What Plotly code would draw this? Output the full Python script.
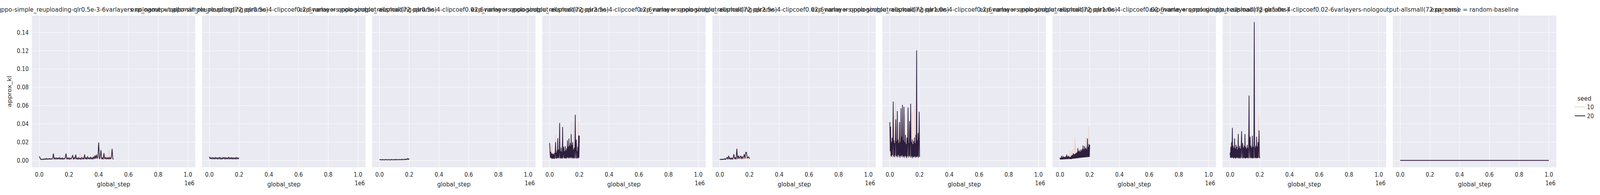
import plotly.graph_objects as go
from plotly.subplots import make_subplots

# logged global_step grids
steps_500k = list(range(0, 500001, 5000))
steps_200k = list(range(0, 200001, 5000))
steps_200k_fine = list(range(0, 200001, 2500))
steps_1m = [0, 250000, 500000, 750000, 1000000]

seeds = [10, 20]
seed_colors = {10: '#edd1cb', 20: '#2d1e3e'}

exp_names = [
    'qppo-simple_reuploading-qlr0.5e-3-6varlayers-nologoutput-allsmall_reuploading(72 params)',
    'qppo-simple_reuploading-qlr0.5e-4-clipcoef0.2-6varlayers-nologoutput-allsmall(72 params)',
    'qppo-simple_reuploading-qlr0.5e-4-clipcoef0.02-6varlayers-nologoutput-allsmall(72 params)',
    'qppo-simple_reuploading-qlr2.5e-4-clipcoef0.2-6varlayers-nologoutput-allsmall(72 params)',
    'qppo-simple_reuploading-qlr2.5e-4-clipcoef0.02-6varlayers-nologoutput-allsmall(72 params)',
    'qppo-simple_reuploading-qlr1.0e-4-clipcoef0.2-6varlayers-nologoutput-allsmall(72 params)',
    'qppo-simple_reuploading-qlr1.0e-4-clipcoef0.02-6varlayers-nologoutput-allsmall(72 params)',
    'qppo-simple_reuploading-qlr5.0e-4-clipcoef0.02-6varlayers-nologoutput-allsmall(72 params)',
    'random-baseline',
]

x_ticks = [0, 200000, 400000, 600000, 800000, 1000000]
x_ticktext = ['0.0', '0.2', '0.4', '0.6', '0.8', '1.0']
y_ticks = [0.0, 0.02, 0.04, 0.06, 0.08, 0.10, 0.12, 0.14]

# approx_kl per run
kl_p1_s10 = [0.0035, 0.0012, 0.0009, 0.0030, 0.0011, 0.0008, 0.0015, 0.0010, 0.0018, 0.0011,
             0.0024, 0.0010, 0.0017, 0.0030, 0.0012, 0.0026, 0.0013, 0.0021, 0.0010, 0.0031,
             0.0014, 0.0024, 0.0011, 0.0027, 0.0013, 0.0035, 0.0012, 0.0029, 0.0055, 0.0013,
             0.0026, 0.0011, 0.0033, 0.0048, 0.0012, 0.0030, 0.0015, 0.0027, 0.0011, 0.0041,
             0.0014, 0.0030, 0.0012, 0.0038, 0.0016, 0.0028, 0.0011, 0.0036, 0.0013, 0.0030,
             0.0015, 0.0039, 0.0012, 0.0027, 0.0014, 0.0081, 0.0013, 0.0034, 0.0016, 0.0029,
             0.0012, 0.0037, 0.0015, 0.0026, 0.0013, 0.0043, 0.0016, 0.0031, 0.0012, 0.0039,
             0.0014, 0.0046, 0.0016, 0.0033, 0.0013, 0.0040, 0.0018, 0.0035, 0.0070, 0.0017,
             0.0045, 0.0015, 0.0038, 0.0020, 0.0033, 0.0016, 0.0052, 0.0018, 0.0041, 0.0070,
             0.0017, 0.0055, 0.0019, 0.0043, 0.0122, 0.0016, 0.0048, 0.0021, 0.0136, 0.0024,
             0.0018]
kl_p1_s20 = [0.0045, 0.0030, 0.0012, 0.0010, 0.0014, 0.0009, 0.0016, 0.0010, 0.0020, 0.0012,
             0.0022, 0.0011, 0.0018, 0.0013, 0.0021, 0.0012, 0.0019, 0.0014, 0.0023, 0.0075,
             0.0013, 0.0028, 0.0015, 0.0030, 0.0012, 0.0026, 0.0016, 0.0033, 0.0011, 0.0024,
             0.0014, 0.0029, 0.0012, 0.0022, 0.0016, 0.0031, 0.0075, 0.0013, 0.0027, 0.0015,
             0.0030, 0.0012, 0.0024, 0.0017, 0.0034, 0.0058, 0.0011, 0.0029, 0.0016, 0.0064,
             0.0013, 0.0026, 0.0010, 0.0032, 0.0015, 0.0023, 0.0012, 0.0035, 0.0014, 0.0027,
             0.0012, 0.0065, 0.0015, 0.0031, 0.0011, 0.0044, 0.0016, 0.0028, 0.0013, 0.0038,
             0.0014, 0.0030, 0.0012, 0.0042, 0.0016, 0.0055, 0.0018, 0.0062, 0.0021, 0.0048,
             0.0197, 0.0015, 0.0036, 0.0113, 0.0014, 0.0030, 0.0012, 0.0080, 0.0016, 0.0034,
             0.0013, 0.0029, 0.0017, 0.0033, 0.0012, 0.0036, 0.0015, 0.0031, 0.0126, 0.0018,
             0.0013]

kl_p2_s10 = [0.0032, 0.0015, 0.0026, 0.0013, 0.0038, 0.0016, 0.0024, 0.0012, 0.0030, 0.0014,
             0.0027, 0.0017, 0.0034, 0.0013, 0.0025, 0.0016, 0.0031, 0.0012, 0.0028, 0.0015,
             0.0039, 0.0014, 0.0026, 0.0013, 0.0033, 0.0016, 0.0024, 0.0012, 0.0035, 0.0015,
             0.0029, 0.0014, 0.0027, 0.0017, 0.0036, 0.0013, 0.0025, 0.0016, 0.0032, 0.0014,
             0.0021]
kl_p2_s20 = [0.0040, 0.0018, 0.0030, 0.0015, 0.0033, 0.0017, 0.0028, 0.0014, 0.0035, 0.0016,
             0.0031, 0.0013, 0.0029, 0.0018, 0.0036, 0.0015, 0.0027, 0.0014, 0.0032, 0.0017,
             0.0034, 0.0013, 0.0030, 0.0016, 0.0028, 0.0015, 0.0037, 0.0014, 0.0029, 0.0017,
             0.0033, 0.0013, 0.0031, 0.0016, 0.0027, 0.0015, 0.0035, 0.0014, 0.0030, 0.0018,
             0.0026]

kl_p3_s10 = [0.0010, 0.0005, 0.0008, 0.0004, 0.0009, 0.0005, 0.0007, 0.0004, 0.0010, 0.0005,
             0.0008, 0.0004, 0.0009, 0.0006, 0.0007, 0.0004, 0.0010, 0.0005, 0.0008, 0.0005,
             0.0009, 0.0004, 0.0011, 0.0005, 0.0008, 0.0006, 0.0010, 0.0005, 0.0009, 0.0006,
             0.0012, 0.0005, 0.0010, 0.0007, 0.0013, 0.0006, 0.0015, 0.0008, 0.0019, 0.0009,
             0.0016]
kl_p3_s20 = [0.0012, 0.0006, 0.0009, 0.0005, 0.0010, 0.0006, 0.0008, 0.0005, 0.0011, 0.0006,
             0.0009, 0.0005, 0.0010, 0.0007, 0.0008, 0.0005, 0.0011, 0.0006, 0.0009, 0.0006,
             0.0010, 0.0005, 0.0012, 0.0006, 0.0009, 0.0007, 0.0011, 0.0006, 0.0010, 0.0007,
             0.0013, 0.0006, 0.0011, 0.0008, 0.0014, 0.0007, 0.0016, 0.0009, 0.0021, 0.0010,
             0.0018]

kl_p4_s10 = [0.0210, 0.0025, 0.0110, 0.0020, 0.0150, 0.0030, 0.0175, 0.0022, 0.0090, 0.0018,
             0.0085, 0.0021, 0.0070, 0.0016, 0.0095, 0.0024, 0.0280, 0.0020, 0.0100, 0.0026,
             0.0230, 0.0019, 0.0090, 0.0023, 0.0110, 0.0018, 0.0100, 0.0025, 0.0080, 0.0021,
             0.0120, 0.0017, 0.0200, 0.0024, 0.0090, 0.0020, 0.0080, 0.0026, 0.0120, 0.0019,
             0.0095, 0.0023, 0.0110, 0.0020, 0.0140, 0.0027, 0.0120, 0.0021, 0.0160, 0.0025,
             0.0110, 0.0019, 0.0150, 0.0028, 0.0170, 0.0022, 0.0160, 0.0026, 0.0420, 0.0024,
             0.0150, 0.0020, 0.0180, 0.0027, 0.0420, 0.0021, 0.0180, 0.0025, 0.0130, 0.0019,
             0.0160, 0.0026, 0.0140, 0.0022, 0.0170, 0.0028, 0.0200, 0.0023, 0.0423, 0.0030,
             0.0280]
kl_p4_s20 = [0.0190, 0.0120, 0.0030, 0.0095, 0.0025, 0.0080, 0.0020, 0.0070, 0.0018, 0.0075,
             0.0022, 0.0065, 0.0017, 0.0080, 0.0021, 0.0090, 0.0200, 0.0024, 0.0085, 0.0019,
             0.0110, 0.0026, 0.0244, 0.0030, 0.0120, 0.0022, 0.0090, 0.0410, 0.0028, 0.0100,
             0.0020, 0.0140, 0.0025, 0.0095, 0.0019, 0.0366, 0.0030, 0.0085, 0.0150, 0.0021,
             0.0100, 0.0027, 0.0156, 0.0023, 0.0110, 0.0020, 0.0130, 0.0032, 0.0220, 0.0028,
             0.0150, 0.0024, 0.0240, 0.0030, 0.0160, 0.0022, 0.0190, 0.0035, 0.0287, 0.0027,
             0.0170, 0.0021, 0.0200, 0.0030, 0.0120, 0.0019, 0.0140, 0.0026, 0.0110, 0.0500,
             0.0024, 0.0130, 0.0229, 0.0020, 0.0100, 0.0028, 0.0150, 0.0022, 0.0274, 0.0030,
             0.0270]

kl_p5_s10 = [0.0006, 0.0010, 0.0007, 0.0012, 0.0008, 0.0014, 0.0009, 0.0016, 0.0008, 0.0018,
             0.0010, 0.0021, 0.0011, 0.0024, 0.0010, 0.0020, 0.0012, 0.0023, 0.0011, 0.0027,
             0.0013, 0.0025, 0.0012, 0.0030, 0.0014, 0.0028, 0.0013, 0.0031, 0.0015, 0.0029,
             0.0014, 0.0033, 0.0016, 0.0030, 0.0015, 0.0036, 0.0017, 0.0034, 0.0016, 0.0032,
             0.0015]
kl_p5_s20 = [0.0008, 0.0012, 0.0009, 0.0015, 0.0010, 0.0016, 0.0011, 0.0019, 0.0010, 0.0022,
             0.0035, 0.0012, 0.0052, 0.0014, 0.0028, 0.0011, 0.0030, 0.0013, 0.0026, 0.0068,
             0.0015, 0.0032, 0.0012, 0.0128, 0.0018, 0.0052, 0.0020, 0.0035, 0.0050, 0.0016,
             0.0045, 0.0019, 0.0038, 0.0067, 0.0021, 0.0088, 0.0087, 0.0025, 0.0034, 0.0040,
             0.0018]

kl_p6_s10 = [0.0150, 0.0040, 0.0180, 0.0030, 0.0220, 0.0050, 0.0150, 0.0035, 0.0200, 0.0045,
             0.0170, 0.0030, 0.0500, 0.0040, 0.0200, 0.0635, 0.0050, 0.0230, 0.0035, 0.0190,
             0.0045, 0.0220, 0.0030, 0.0180, 0.0400, 0.0040, 0.0210, 0.0035, 0.0240, 0.0050,
             0.0190, 0.0030, 0.0220, 0.0045, 0.0260, 0.0035, 0.0200, 0.0040, 0.0180, 0.0030,
             0.0230, 0.0500, 0.0045, 0.0210, 0.0035, 0.0190, 0.0050, 0.0240, 0.0030, 0.0200,
             0.0040, 0.0220, 0.0035, 0.0180, 0.0045, 0.0250, 0.0030, 0.0210, 0.0040, 0.0190,
             0.0525, 0.0035, 0.0230, 0.0045, 0.0200, 0.0030, 0.0260, 0.0587, 0.0040, 0.0220,
             0.0035, 0.0190, 0.0045, 0.0240, 0.0030, 0.0210, 0.0050, 0.0270, 0.0035, 0.0230,
             0.0050]
kl_p6_s20 = [0.0420, 0.0100, 0.0370, 0.0050, 0.0200, 0.0040, 0.0250, 0.0060, 0.0180, 0.0644,
             0.0045, 0.0220, 0.0035, 0.0190, 0.0055, 0.0240, 0.0450, 0.0040, 0.0210, 0.0050,
             0.0540, 0.0035, 0.0230, 0.0060, 0.0190, 0.0045, 0.0420, 0.0030, 0.0200, 0.0050,
             0.0570, 0.0040, 0.0260, 0.0055, 0.0608, 0.0035, 0.0220, 0.0045, 0.0586, 0.0030,
             0.0200, 0.0050, 0.0280, 0.0040, 0.0180, 0.0025, 0.0250, 0.0045, 0.0210, 0.0580,
             0.0035, 0.0190, 0.0050, 0.0430, 0.0040, 0.0230, 0.0620, 0.0030, 0.0200, 0.0045,
             0.0230, 0.0025, 0.0180, 0.0040, 0.0210, 0.0035, 0.0250, 0.0045, 0.0190, 0.0030,
             0.0280, 0.0040, 0.1204, 0.0035, 0.0220, 0.0045, 0.0300, 0.0030, 0.0210, 0.0533,
             0.0040]

kl_p7_s10 = [0.0020, 0.0010, 0.0035, 0.0011, 0.0030, 0.0012, 0.0040, 0.0010, 0.0060, 0.0013,
             0.0038, 0.0012, 0.0045, 0.0014, 0.0040, 0.0013, 0.0050, 0.0015, 0.0042, 0.0014,
             0.0048, 0.0016, 0.0055, 0.0015, 0.0052, 0.0017, 0.0106, 0.0016, 0.0060, 0.0018,
             0.0096, 0.0017, 0.0070, 0.0019, 0.0120, 0.0018, 0.0065, 0.0020, 0.0080, 0.0021,
             0.0237, 0.0020, 0.0184, 0.0022, 0.0090, 0.0021, 0.0085, 0.0023, 0.0100, 0.0022,
             0.0095, 0.0025, 0.0135, 0.0024, 0.0105, 0.0026, 0.0110, 0.0025, 0.0120, 0.0028,
             0.0115, 0.0027, 0.0130, 0.0030, 0.0125, 0.0029, 0.0140, 0.0032, 0.0130, 0.0031,
             0.0252, 0.0033, 0.0150, 0.0035, 0.0160, 0.0034, 0.0170, 0.0036, 0.0372, 0.0038,
             0.0060]
kl_p7_s20 = [0.0030, 0.0012, 0.0025, 0.0010, 0.0050, 0.0013, 0.0030, 0.0011, 0.0048, 0.0014,
             0.0035, 0.0012, 0.0040, 0.0015, 0.0032, 0.0013, 0.0045, 0.0016, 0.0064, 0.0014,
             0.0040, 0.0017, 0.0050, 0.0015, 0.0042, 0.0018, 0.0038, 0.0014, 0.0036, 0.0016,
             0.0048, 0.0015, 0.0055, 0.0018, 0.0060, 0.0020, 0.0078, 0.0019, 0.0065, 0.0022,
             0.0070, 0.0021, 0.0075, 0.0024, 0.0082, 0.0023, 0.0090, 0.0026, 0.0132, 0.0025,
             0.0100, 0.0028, 0.0110, 0.0027, 0.0095, 0.0030, 0.0120, 0.0029, 0.0105, 0.0032,
             0.0125, 0.0030, 0.0163, 0.0033, 0.0120, 0.0035, 0.0156, 0.0032, 0.0130, 0.0036,
             0.0140, 0.0034, 0.0120, 0.0038, 0.0240, 0.0036, 0.0150, 0.0040, 0.0180, 0.0038,
             0.0170]

kl_p8_s10 = [0.0060, 0.0187, 0.0025, 0.0120, 0.0030, 0.0140, 0.0022, 0.0110, 0.0028, 0.0130,
             0.0020, 0.0120, 0.0030, 0.0140, 0.0025, 0.0110, 0.0032, 0.0150, 0.0022, 0.0240,
             0.0028, 0.0120, 0.0025, 0.0140, 0.0030, 0.0110, 0.0020, 0.0177, 0.0028, 0.0130,
             0.0024, 0.0120, 0.0030, 0.0140, 0.0022, 0.0110, 0.0028, 0.0150, 0.0025, 0.0120,
             0.0030, 0.0130, 0.0022, 0.0140, 0.0028, 0.0120, 0.0025, 0.0150, 0.0280, 0.0030,
             0.0130, 0.0024, 0.0140, 0.0028, 0.0120, 0.0022, 0.0150, 0.0030, 0.0130, 0.0025,
             0.0140, 0.0028, 0.0120, 0.0023, 0.0150, 0.0030, 0.0130, 0.0026, 0.0140, 0.0030,
             0.0120, 0.0024, 0.0150, 0.0028, 0.0255, 0.0030, 0.0140, 0.0490, 0.0025, 0.0130,
             0.0035]
kl_p8_s20 = [0.0085, 0.0030, 0.0150, 0.0025, 0.0200, 0.0035, 0.0357, 0.0028, 0.0160, 0.0022,
             0.0140, 0.0030, 0.0240, 0.0025, 0.0130, 0.0020, 0.0170, 0.0032, 0.0150, 0.0024,
             0.0120, 0.0030, 0.0290, 0.0022, 0.0140, 0.0028, 0.0160, 0.0020, 0.0130, 0.0030,
             0.0180, 0.0320, 0.0025, 0.0150, 0.0190, 0.0022, 0.0140, 0.0030, 0.0160, 0.0026,
             0.0290, 0.0020, 0.0150, 0.0028, 0.0130, 0.0024, 0.0170, 0.0030, 0.0140, 0.0022,
             0.0180, 0.0710, 0.0028, 0.0150, 0.0260, 0.0024, 0.0160, 0.0030, 0.0140, 0.0021,
             0.0270, 0.0027, 0.0150, 0.0023, 0.0170, 0.1515, 0.0025, 0.0140, 0.0030, 0.0160,
             0.0022, 0.0260, 0.0028, 0.0150, 0.0024, 0.0200, 0.0030, 0.0170, 0.0330, 0.0025,
             0.0040]

kl_p9_s10 = [0.0, 0.0, 0.0, 0.0, 0.0]
kl_p9_s20 = [0.0, 0.0, 0.0, 0.0, 0.0]

panels = [
    (steps_500k, kl_p1_s10, kl_p1_s20),
    (steps_200k, kl_p2_s10, kl_p2_s20),
    (steps_200k, kl_p3_s10, kl_p3_s20),
    (steps_200k_fine, kl_p4_s10, kl_p4_s20),
    (steps_200k, kl_p5_s10, kl_p5_s20),
    (steps_200k_fine, kl_p6_s10, kl_p6_s20),
    (steps_200k_fine, kl_p7_s10, kl_p7_s20),
    (steps_200k_fine, kl_p8_s10, kl_p8_s20),
    (steps_1m, kl_p9_s10, kl_p9_s20),
]

W, H = 4574, 500
ML, MR, MT, MB = 91, 119, 40, 71
plot_w = W - ML - MR
plot_h = H - MT - MB
gap = 19
n = len(panels)
panel_w = (plot_w - gap * (n - 1)) / n

text_color = '#262626'
font_family = 'DejaVu Sans'

fig = make_subplots(rows=1, cols=n, shared_yaxes=True,
                    horizontal_spacing=gap / plot_w)

for i, (steps, s10, s20) in enumerate(panels):
    for seed, vals in zip(seeds, [s10, s20]):
        fig.add_trace(go.Scatter(
            x=steps, y=vals, mode='lines',
            line=dict(color=seed_colors[seed], width=2),
            name=str(seed), legendgroup=str(seed),
            showlegend=(i == 0)
        ), row=1, col=i + 1)

fig.update_xaxes(
    range=[-50000, 1050000], tickvals=x_ticks, ticktext=x_ticktext,
    showgrid=True, gridcolor='white', gridwidth=1.4,
    zeroline=False, showline=False, ticks='',
    ticklabelstandoff=8,
    tickfont=dict(size=15.3, color=text_color)
)
fig.update_yaxes(
    range=[-0.00755, 0.15855], tickvals=y_ticks, tickformat='.2f',
    showgrid=True, gridcolor='white', gridwidth=1.4,
    zeroline=False, showline=False, ticks='',
    ticklabelstandoff=8,
    tickfont=dict(size=15.3, color=text_color)
)

annotations = []
for i, name in enumerate(exp_names):
    x0 = i * (panel_w + gap)
    xc = (x0 + panel_w / 2) / plot_w
    xr = (x0 + panel_w) / plot_w
    annotations.append(dict(
        text='exp_name = ' + name, x=xc, y=(plot_h + 15) / plot_h,
        xref='paper', yref='paper', xanchor='center', yanchor='middle',
        showarrow=False, font=dict(size=16.7, color=text_color)))
    annotations.append(dict(
        text='global_step', x=xc, y=-43 / plot_h,
        xref='paper', yref='paper', xanchor='center', yanchor='middle',
        showarrow=False, font=dict(size=16.7, color=text_color)))
    annotations.append(dict(
        text='1e6', x=xr, y=-41 / plot_h,
        xref='paper', yref='paper', xanchor='right', yanchor='middle',
        showarrow=False, font=dict(size=15.3, color=text_color)))

annotations.append(dict(
    text='approx_kl', x=-64 / plot_w, y=0.5, textangle=-90,
    xref='paper', yref='paper', xanchor='center', yanchor='middle',
    showarrow=False, font=dict(size=16.7, color=text_color)))

fig.update_layout(
    width=W, height=H,
    margin=dict(l=ML, r=MR, t=MT, b=MB),
    paper_bgcolor='white', plot_bgcolor='#EAEAF2',
    font=dict(family=font_family, color=text_color),
    annotations=annotations,
    legend=dict(
        title=dict(text='seed', side='top center',
                   font=dict(size=16.7, color=text_color)),
        x=(4503 - ML) / plot_w, xanchor='left',
        y=(H - MB - 236) / plot_h, yanchor='top',
        bgcolor='rgba(0,0,0,0)', font=dict(size=15.3, color=text_color),
        itemwidth=30, tracegroupgap=0
    ),
)

# the browser window can be narrower than the figure: drop the body margin
# and squeeze the figure horizontally so the whole width stays visible
fit_js = """
document.body.style.margin = '0';
document.body.style.overflow = 'hidden';
var gd = document.getElementById('{plot_id}');
var s = Math.min(1, window.innerWidth / %d);
gd.style.transformOrigin = '0 0';
gd.style.transform = 'scale(' + s + ', 1)';
""" % W
fig.write_html('out.html', post_script=fit_js,
               config={'displayModeBar': False})
